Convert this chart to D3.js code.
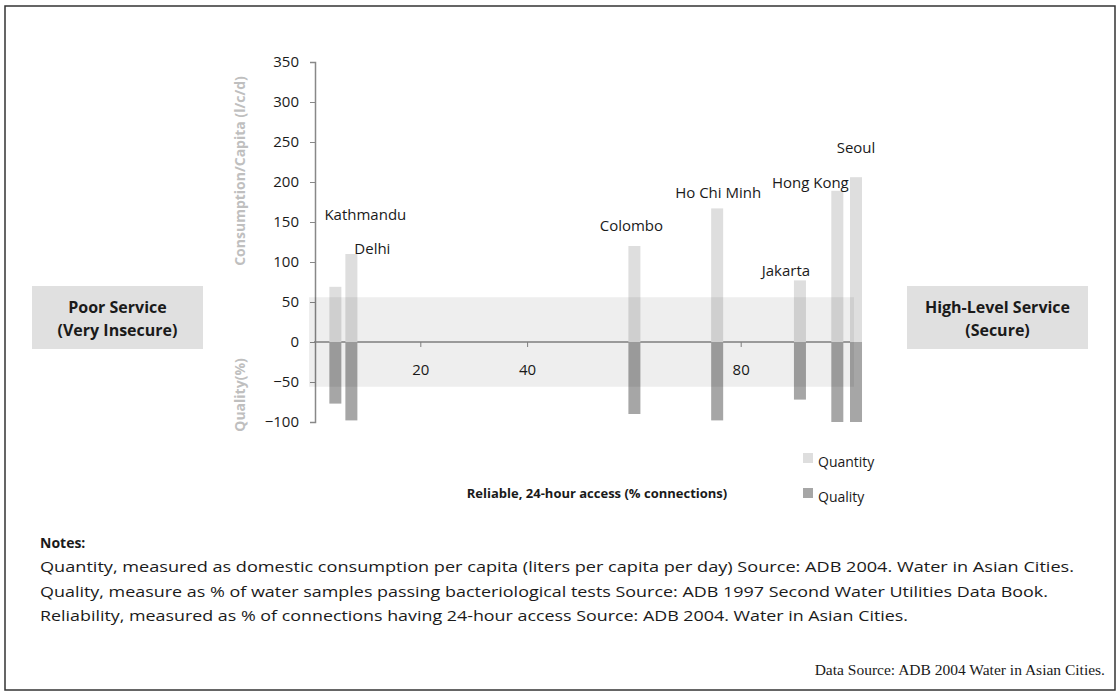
<!DOCTYPE html>
<html lang="en">
<head>
<meta charset="UTF-8">
<title>Water service in Asian cities</title>
<script src="https://d3js.org/d3.v7.min.js"></script>
<style>
  body { margin: 0; background: #fff; }
  text { font-family: "Open Sans", Lato, sans-serif; fill: #1a1a1a; }
</style>
</head>
<body>
<div id="chart"></div>
<script>
// data
const cities      = ["Kathmandu", "Delhi", "Colombo", "Ho Chi Minh", "Jakarta", "Hong Kong", "Seoul"];
const reliability = [4, 7, 60, 75.5, 91, 98, 101.5];
const quantity    = [69, 110, 120, 167, 77, 189, 206];
const quality     = [-77, -98, -90, -98, -72, -100, -100];
const yTicks = [-100, -50, 0, 50, 100, 150, 200, 250, 300, 350];
const xTicks = [20, 40, 80];
const notes = [
  "Quantity, measured as domestic consumption per capita (liters per capita per day) Source: ADB 2004. Water in Asian Cities.",
  "Quality, measure as % of water samples passing bacteriological tests Source: ADB 1997 Second Water Utilities Data Book.",
  "Reliability, measured as % of connections having 24-hour access Source: ADB 2004. Water in Asian Cities."
];

// layout only: label nudges (px) from the top of each bar
const labelNudge = [[30, -67], [21, 0], [-3, -15], [1, -10], [-14, -4], [-27, -3], [0, -24]];
const noteWidths = [1034, 1008, 868];

const width = 1120, height = 693;
const svg = d3.select("#chart").append("svg")
    .attr("width", width)
    .attr("height", height);

// frame
svg.append("rect")
    .attr("x", 5).attr("y", 6)
    .attr("width", 1110).attr("height", 684)
    .attr("fill", "none")
    .attr("stroke", "#333")
    .attr("stroke-width", 1.5);

const x = d3.scaleLinear().domain([0, 100]).range([314, 848]);
const y = d3.scaleLinear().domain([-100, 350]).range([422, 62]);

// y axis
const yAxis = svg.append("g")
    .attr("transform", "translate(315,0)")
    .call(d3.axisLeft(y).tickValues(yTicks).tickSize(5).tickPadding(11));
yAxis.select(".domain").attr("stroke", "#888").attr("stroke-width", 1.5);
yAxis.selectAll(".tick line").attr("stroke", "#888");
yAxis.selectAll(".tick text")
    .attr("font-size", 15)
    .attr("font-family", "'Open Sans', sans-serif")
    .attr("fill", "#1a1a1a");

// x axis line through zero
svg.append("line")
    .attr("x1", x(0)).attr("x2", x(100) + 8)
    .attr("y1", y(0)).attr("y2", y(0))
    .attr("stroke", "#888")
    .attr("stroke-width", 1.5);

svg.selectAll(".xtick")
    .data(xTicks)
    .enter().append("line")
    .attr("x1", d => x(d)).attr("x2", d => x(d))
    .attr("y1", y(0)).attr("y2", y(0) + 5)
    .attr("stroke", "#888");

svg.selectAll(".xlab")
    .data(xTicks)
    .enter().append("text")
    .attr("x", d => x(d))
    .attr("y", y(0) + 33)
    .attr("text-anchor", "middle")
    .attr("font-size", 15)
    .text(d => d);

// bars
const barW = 12;
svg.selectAll(".qty")
    .data(cities)
    .enter().append("rect")
    .attr("x", (d, i) => x(reliability[i]) - barW / 2)
    .attr("y", (d, i) => y(quantity[i]))
    .attr("width", barW)
    .attr("height", (d, i) => y(0) - y(quantity[i]))
    .attr("fill", "#dedede");

svg.selectAll(".qual")
    .data(cities)
    .enter().append("rect")
    .attr("x", (d, i) => x(reliability[i]) - barW / 2)
    .attr("y", y(0))
    .attr("width", barW)
    .attr("height", (d, i) => y(quality[i]) - y(0))
    .attr("fill", "#a6a6a6");

// translucent band
svg.append("rect")
    .attr("x", x(0) - 5)
    .attr("y", y(56))
    .attr("width", x(100) - x(0) + 11)
    .attr("height", y(-56) - y(56))
    .attr("fill", "#000")
    .attr("opacity", 0.065);

// city labels
svg.selectAll(".city")
    .data(cities)
    .enter().append("text")
    .attr("x", (d, i) => x(reliability[i]) + labelNudge[i][0])
    .attr("y", (d, i) => y(quantity[i]) + labelNudge[i][1])
    .attr("text-anchor", "middle")
    .attr("font-size", 15)
    .text(d => d);

// axis titles
svg.append("text")
    .attr("transform", "translate(245,171) rotate(-90)")
    .attr("text-anchor", "middle")
    .attr("font-size", 14)
    .attr("font-weight", "bold")
    .style("fill", "#bfbfbf")
    .text("Consumption/Capita (l/c/d)");

svg.append("text")
    .attr("transform", "translate(245,395) rotate(-90)")
    .attr("text-anchor", "middle")
    .attr("font-size", 14)
    .attr("font-weight", "bold")
    .style("fill", "#bfbfbf")
    .text("Quality(%)");

svg.append("text")
    .attr("x", 597).attr("y", 498)
    .attr("text-anchor", "middle")
    .attr("font-size", 13)
    .attr("font-weight", "bold")
    .text("Reliable, 24-hour access (% connections)");

// side boxes
const boxes = [
  {x: 32, w: 171, lines: ["Poor Service", "(Very Insecure)"]},
  {x: 907, w: 181, lines: ["High-Level Service", "(Secure)"]}
];
boxes.forEach(b => {
  svg.append("rect")
      .attr("x", b.x).attr("y", 286)
      .attr("width", b.w).attr("height", 63)
      .attr("fill", "#e0e0e0");
  b.lines.forEach((l, j) => {
    svg.append("text")
        .attr("x", b.x + b.w / 2)
        .attr("y", 313 + j * 23)
        .attr("text-anchor", "middle")
        .attr("font-size", 16)
        .attr("font-weight", "bold")
        .text(l);
  });
});

// legend
const legend = [["Quantity", "#dedede"], ["Quality", "#a6a6a6"]];
legend.forEach((l, i) => {
  svg.append("rect")
      .attr("x", 803).attr("y", 453 + i * 35)
      .attr("width", 10).attr("height", 10)
      .attr("fill", l[1]);
  svg.append("text")
      .attr("x", 818).attr("y", 467 + i * 35)
      .attr("font-size", 14)
      .text(l[0]);
});

// notes
svg.append("text")
    .attr("x", 40).attr("y", 548)
    .attr("font-size", 14)
    .attr("font-weight", "bold")
    .text("Notes:");

svg.selectAll(".note")
    .data(notes)
    .enter().append("text")
    .attr("x", 40)
    .attr("y", (d, i) => 572 + i * 24.5)
    .attr("font-size", 15)
    .attr("textLength", (d, i) => noteWidths[i])
    .attr("lengthAdjust", "spacingAndGlyphs")
    .text(d => d);

svg.append("text")
    .attr("x", 1105).attr("y", 675)
    .attr("text-anchor", "end")
    .attr("font-size", 15.5)
    .style("font-family", "'Liberation Serif', serif")
    .text("Data Source: ADB 2004 Water in Asian Cities.");
</script>
</body>
</html>
